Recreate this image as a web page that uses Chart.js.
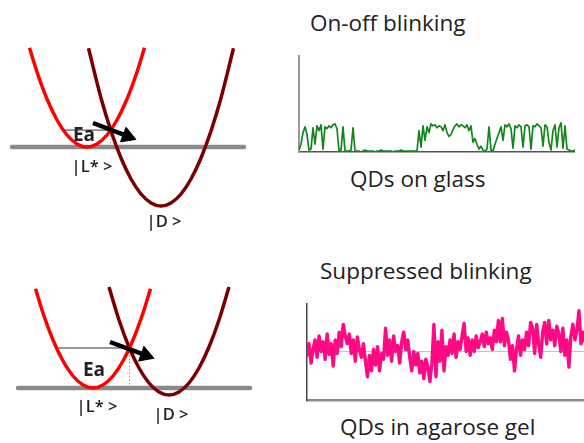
<!DOCTYPE html>
<html>
<head>
<meta charset="utf-8">
<script src="https://cdn.jsdelivr.net/npm/chart.js@4.4.1/dist/chart.umd.min.js"></script>
<style>
  html, body { margin: 0; padding: 0; background: #fff; }
  body { width: 584px; height: 443px; position: relative; overflow: hidden;
         font-family: "Open Sans", Lato, sans-serif; color: #222; }
  canvas { position: absolute; }
  .cap { position: absolute; white-space: nowrap; font-size: 22.5px; line-height: 1; }
</style>
</head>
<body>
<canvas id="wellGlass" width="260" height="200" style="left:0;top:37px"></canvas>
<canvas id="wellGel" width="260" height="165" style="left:0;top:278px"></canvas>
<canvas id="traceGlass" width="278" height="99" style="left:297px;top:55px"></canvas>
<canvas id="traceGel" width="280" height="99" style="left:305px;top:303px"></canvas>

<div class="cap" id="capTopA" style="left:310px;top:12px"></div>
<div class="cap" id="capBotA" style="left:350px;top:168px"></div>
<div class="cap" id="capTopB" style="left:320px;top:260px"></div>
<div class="cap" id="capBotB" style="left:340px;top:416px"></div>

<script>
// ---- captions ----
const captions = ['On-off blinking', 'QDs on glass', 'Suppressed blinking', 'QDs in agarose gel'];

// ---- potential wells: QDs on glass (coordinate q, energy E; E = 0 is the |L*> minimum) ----
const glassLightQ = [2.95, 3.7, 4.7, 5.7, 6.7, 7.7, 8.7, 9.7, 10.7, 11.7, 12.7, 13.7, 14.45];
const glassLightE = [9.92, 7.5, 4.8, 2.7, 1.2, 0.3, 0, 0.3, 1.2, 2.7, 4.8, 7.5, 9.92];
const glassDarkQ  = [8.85, 10.1, 11.1, 12.1, 13.1, 14.1, 15.1, 16.1, 17.1, 18.1, 19.1, 20.1, 21.1, 22.1, 23.35];
const glassDarkE  = [9.87, 4.9, 1.6, -1.1, -3.2, -4.7, -5.6, -5.9, -5.6, -4.7, -3.2, -1.1, 1.6, 4.9, 9.87];
const glassGroundQ = [1.2, 24.4];
const glassCross = { q: 11.07, e: 1.69 };   // where the two wells intersect
const glassEaStartQ = 6.33;                 // light well at the crossing energy
const glassArrowQ = [9.3, 12.75];
const glassArrowE = [2.4, 1.08];
const glassLabelQ = [8.4, 9.2, 16.4];
const glassLabelE = [1.1, -2.0, -7.5];

// ---- potential wells: QDs in agarose gel ----
const gelLightQ = [3.55, 4.3, 5.3, 6.3, 7.3, 8.3, 9.3, 10.3, 11.3, 12.3, 13.3, 14.3, 15.05];
const gelLightE = [9.92, 7.5, 4.8, 2.7, 1.2, 0.3, 0, 0.3, 1.2, 2.7, 4.8, 7.5, 9.92];
const gelDarkQ  = [10.9, 11.9, 12.9, 13.9, 14.9, 15.9, 16.9, 17.9, 18.9, 19.9, 20.9, 21.9, 22.9];
const gelDarkE  = [10.1, 6.8, 4.1, 2.0, 0.5, -0.4, -0.7, -0.4, 0.5, 2.0, 4.1, 6.8, 10.1];
const gelGroundQ = [1.8, 25.0];
const gelCross = { q: 12.95, e: 4.0 };
const gelEaStartQ = 5.65;
const gelArrowQ = [11.0, 14.55];
const gelArrowE = [4.6, 3.28];
const gelLabelQ = [9.4, 9.7, 17.1];
const gelLabelE = [1.7, -1.9, -2.7];

const wellLabels = ['Ea', '|L* >', '|D >'];

// ---- intensity traces (a.u., one value per frame) ----
const glassTrace = [
  2, 8, 20, 26, 18, 2, 3, 25, 8, 27, 22, 28, 3, 26, 24, 27, 25, 28, 29, 24,
  1, 2, 26, 1, 1, 1, 2, 25, 1, 1, 1, 0, 1, 2, 1, 1, 1, 1, 0, 1,
  1, 2, 1, 1, 1, 1, 1, 0, 1, 1, 1, 2, 1, 1, 1, 1, 1, 1, 1, 1,
  22, 5, 27, 12, 26, 20, 29, 27, 28, 25, 27, 26, 22, 28, 20, 16, 18, 23, 27, 29,
  26, 28, 27, 25, 28, 22, 27, 10, 14, 8, 3, 6, 2, 1, 3, 26, 2, 1, 8, 14,
  20, 26, 12, 28, 26, 29, 24, 4, 27, 25, 28, 26, 5, 27, 28, 26, 3, 27, 26, 29,
  27, 25, 6, 28, 26, 10, 2, 22, 28, 5, 25, 30, 4, 27, 3, 2, 1, 1, 2
];
const gelTrace = [
  45, 58, 38, 52,
  62, 44, 66, 50, 60,
  42, 68, 47, 58, 35, 62, 48,
  70, 55, 78, 66, 58,
  68, 48, 62, 40, 65, 52, 44, 58,
  40, 24, 46, 30,
  52, 36, 55, 30, 48, 42, 74,
  46, 62, 40, 66, 50, 56, 38, 60,
  70, 52, 62,
  44, 30, 50, 36, 48, 28, 40, 22, 42, 34, 19, 38,
  78, 24, 60,
  40, 72, 30, 55, 46,
  62, 48, 68, 44, 60, 52, 66,
  79, 50, 64, 46,
  62, 50, 66, 54, 60,
  68, 55, 70, 58, 64, 52, 72, 60,
  82, 60, 84, 56, 70,
  62, 42, 56, 30, 52,
  66, 46, 62, 52, 70, 56, 80,
  74, 48, 78, 58, 44, 70,
  80, 58, 82, 62, 72, 56, 76,
  68, 50, 74, 46, 62, 34, 66,
  78, 62, 72,
  92, 58,
  70, 60
];
const gelMeanLevel = 50;

// ---------------------------------------------------------------
captions.forEach((t, i) => {
  document.getElementById(['capTopA', 'capBotA', 'capTopB', 'capBotB'][i]).textContent = t;
});

const pts = (xs, ys) => xs.map((x, i) => ({ x, y: ys[i] }));

const wellLabelPlugin = {
  id: 'wellLabels',
  afterDatasetsDraw(chart, args, opts) {
    const { ctx, scales: { x, y } } = chart;
    ctx.save();
    ctx.fillStyle = '#222';
    ctx.textAlign = 'center';
    ctx.textBaseline = 'middle';
    opts.items.forEach(it => {
      ctx.font = it.font;
      ctx.fillText(it.text, x.getPixelForValue(it.q), y.getPixelForValue(it.e));
    });
    ctx.restore();
  }
};

function wellChart(id, w) {
  const labelFonts = ['bold 19px "Open Sans"', '600 16.5px "Open Sans"', '600 16.5px "Open Sans"'];
  return new Chart(document.getElementById(id), {
    type: 'line',
    data: {
      datasets: [
        { // transition arrow
          data: pts(w.arrowQ, w.arrowE), order: 0,
          borderColor: '#000', borderWidth: 4.5,
          pointRadius: [0, 9], pointStyle: 'triangle', rotation: [0, w.arrowAngle],
          pointBackgroundColor: '#000', pointBorderColor: '#000', pointBorderWidth: 1
        },
        { // bright state well |L*>
          data: pts(w.lightQ, w.lightE), order: 1,
          borderColor: '#ff0000', borderWidth: 3.5, pointRadius: 0,
          cubicInterpolationMode: 'monotone'
        },
        { // dark state well |D>
          data: pts(w.darkQ, w.darkE), order: 2,
          borderColor: '#7a0000', borderWidth: 3.5, pointRadius: 0,
          cubicInterpolationMode: 'monotone'
        },
        { // activation energy level
          data: [{ x: w.eaStartQ, y: w.cross.e }, { x: w.cross.q, y: w.cross.e }], order: 3,
          borderColor: '#333', borderWidth: 1, pointRadius: 0
        },
        { // drop from crossing to ground level
          data: [{ x: w.cross.q, y: 0 }, { x: w.cross.q, y: w.cross.e }], order: 3,
          borderColor: '#999', borderWidth: 1, borderDash: [1.5, 2], pointRadius: 0
        },
        { // ground level of the bright state
          data: w.groundQ.map(q => ({ x: q, y: 0 })), order: 4,
          borderColor: '#8a8a8a', borderWidth: 4.5, pointRadius: 0, borderCapStyle: 'round'
        }
      ]
    },
    options: {
      responsive: false, animation: false, devicePixelRatio: 1,
      layout: { padding: 0, autoPadding: false },
      scales: {
        x: { type: 'linear', display: false, min: 0, max: 26 },
        y: { type: 'linear', display: false, min: w.eMin, max: 11 }
      },
      plugins: {
        legend: { display: false }, tooltip: { enabled: false },
        wellLabels: {
          items: wellLabels.map((t, i) => ({ text: t, q: w.labelQ[i], e: w.labelE[i], font: labelFonts[i] }))
        }
      }
    },
    plugins: [wellLabelPlugin]
  });
}

wellChart('wellGlass', {
  lightQ: glassLightQ, lightE: glassLightE, darkQ: glassDarkQ, darkE: glassDarkE,
  groundQ: glassGroundQ, cross: glassCross, eaStartQ: glassEaStartQ,
  arrowQ: glassArrowQ, arrowE: glassArrowE, arrowAngle: 111,
  labelQ: glassLabelQ, labelE: glassLabelE, eMin: -9
});
wellChart('wellGel', {
  lightQ: gelLightQ, lightE: gelLightE, darkQ: gelDarkQ, darkE: gelDarkE,
  groundQ: gelGroundQ, cross: gelCross, eaStartQ: gelEaStartQ,
  arrowQ: gelArrowQ, arrowE: gelArrowE, arrowAngle: 110,
  labelQ: gelLabelQ, labelE: gelLabelE, eMin: -5.5
});

function traceChart(id, values, color, width, axisY, axisX, mean) {
  const datasets = [{
    data: values.map((v, i) => ({ x: i, y: v })), order: 0,
    borderColor: color, borderWidth: width, pointRadius: 0,
    borderJoinStyle: 'round', tension: 0
  }];
  if (mean !== undefined) {
    datasets.push({
      data: [{ x: 0, y: mean }, { x: values.length - 1, y: mean }], order: 1,
      borderColor: '#c4c4c4', borderWidth: 1, pointRadius: 0
    });
  }
  return new Chart(document.getElementById(id), {
    type: 'line',
    data: { datasets },
    options: {
      responsive: false, animation: false, devicePixelRatio: 1,
      layout: { padding: { left: 2, bottom: 2, top: 0, right: 0 }, autoPadding: false },
      scales: {
        x: { type: 'linear', min: 0, max: values.length - 1,
             grid: { display: false, drawTicks: false }, ticks: { display: false },
             border: { display: true, color: axisX.color, width: axisX.width } },
        y: { type: 'linear', min: 0, max: 100,
             grid: { display: false, drawTicks: false }, ticks: { display: false },
             border: { display: true, color: axisY.color, width: axisY.width } }
      },
      plugins: { legend: { display: false }, tooltip: { enabled: false } }
    }
  });
}

traceChart('traceGlass', glassTrace, '#12861a', 1.7,
  { color: '#9a9a9a', width: 2 }, { color: '#555', width: 1.5 });
traceChart('traceGel', gelTrace, '#ff0a84', 3.4,
  { color: '#444', width: 1.5 }, { color: '#8a8a8a', width: 2.5 }, gelMeanLevel);
</script>
</body>
</html>
